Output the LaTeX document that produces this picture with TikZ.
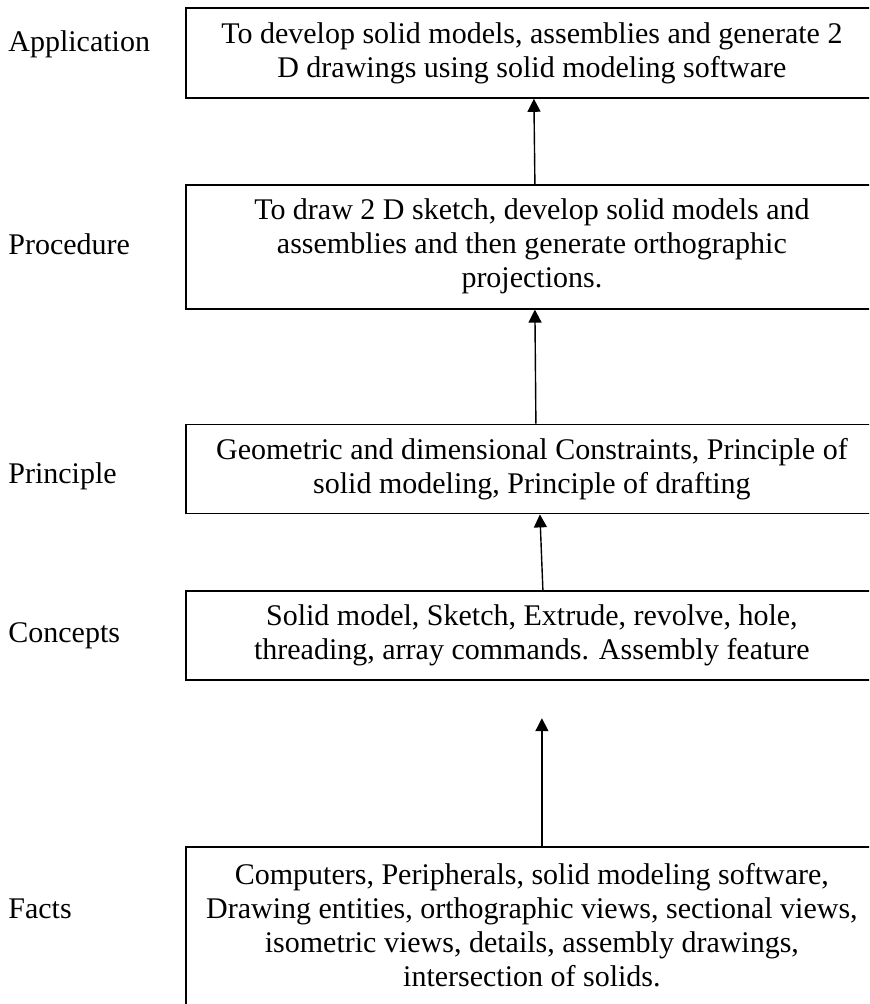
\documentclass[tikz,border=0pt]{standalone}
\usepackage{fontspec}
\setmainfont{Liberation Serif}
\usetikzlibrary{positioning,arrows.meta}

\begin{document}
\begin{tikzpicture}[x=0.5pt,y=-0.5pt,
    levelbox/.style={draw,line width=0.9pt,rectangle,minimum width=346pt,
      align=center,inner sep=0pt,font=\fontsize{15}{17}\selectfont},
    sidelabel/.style={anchor=base west,inner sep=0pt,font=\fontsize{15}{17}\selectfont},
    up/.style={-{Triangle[length=6.5pt,width=6.5pt]},line width=0.7pt}]
  \clip (0,0) rectangle (869,1004);
  \node[levelbox,minimum height=45pt,anchor=north west] (app) at (185,7)
    {To develop solid models, assemblies and generate 2\\ D drawings using solid modeling software};
  \node[levelbox,minimum height=62pt,below=42.5pt of app] (proc)
    {To draw 2 D sketch, develop solid models and\\ assemblies and then generate orthographic\\ projections.};
  \node[levelbox,minimum height=44.5pt,below=57pt of proc] (prin)
    {Geometric and dimensional Constraints, Principle of\\ solid modeling, Principle of drafting};
  \node[levelbox,minimum height=44.5pt,below=38pt of prin] (conc)
    {Solid model, Sketch, Extrude, revolve, hole,\\ threading, array commands. Assembly feature};
  \node[levelbox,minimum height=85pt,text depth=7.5pt,below=82.5pt of conc] (fact)
    {Computers, Peripherals, solid modeling software,\\ Drawing entities, orthographic views, sectional views,\\ isometric views, details, assembly drawings,\\ intersection of solids.};
  \node[sidelabel] (lapp) at (8,52) {Application};
  \node[sidelabel] (lproc) at (8,255) {Procedure};
  \node[sidelabel] (lprin) at (8,483) {Principle};
  \node[sidelabel] (lconc) at (8,642) {Concepts};
  \node[sidelabel] (lfact) at (8,918) {Facts};
  % arrows between levels
  \coordinate (tip) at ([xshift=5pt,yshift=-18.5pt]conc.south);
  \draw[up] ([xshift=1.5pt]proc.north) -- ([xshift=1pt]app.south);
  \draw[up] ([xshift=2pt]prin.north) -- ([xshift=1.5pt]proc.south);
  \draw[up] ([xshift=5.5pt]conc.north) -- ([xshift=4pt]prin.south);
  \draw[up] ([xshift=5pt]fact.north) -- (tip);
\end{tikzpicture}
\end{document}
